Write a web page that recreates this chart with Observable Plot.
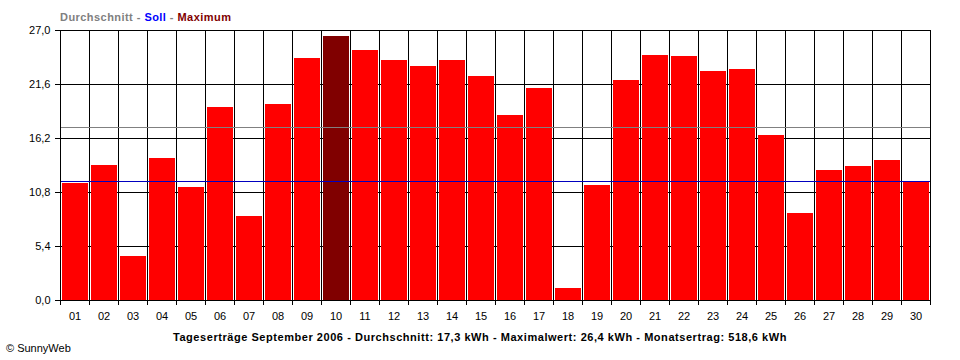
<!DOCTYPE html>
<html>
<head>
<meta charset="utf-8">
<script src="https://cdn.jsdelivr.net/npm/d3@7"></script>
<script src="https://cdn.jsdelivr.net/npm/@observablehq/plot@0.6"></script>
<style>
  html, body { margin: 0; padding: 0; background: #fff; }
  body { width: 960px; height: 360px; position: relative; overflow: hidden; font-family: "Liberation Sans", Arial, sans-serif; }
  #legend { position: absolute; left: 60px; top: 11px; font-weight: bold; font-size: 11px; line-height: 13px; letter-spacing: 0.45px; color: #808080; white-space: nowrap; }
  #chart { position: absolute; left: 0; top: 24px; }
  #caption { position: absolute; left: 0; width: 960px; top: 331px; text-align: center; font-weight: bold; font-size: 11px; line-height: 13px; letter-spacing: 0.55px; color: #000; white-space: nowrap; }
  #credit { position: absolute; left: 6px; top: 342px; font-size: 11px; line-height: 13px; color: #000; white-space: nowrap; }
  svg { shape-rendering: crispEdges; }
  svg text { shape-rendering: auto; }
</style>
</head>
<body>
<div id="legend"><span style="color:#808080">Durchschnitt</span> - <span style="color:#0000ff">Soll</span> - <span style="color:#800000">Maximum</span></div>
<div id="chart"></div>
<div id="caption">Tageserträge September 2006 - Durchschnitt: 17,3 kWh - Maximalwert: 26,4 kWh - Monatsertrag: 518,6 kWh</div>
<div id="credit">© SunnyWeb</div>
<script>
const days = ["01","02","03","04","05","06","07","08","09","10","11","12","13","14","15","16","17","18","19","20","21","22","23","24","25","26","27","28","29","30"];
const yields = [11.7,13.5,4.4,14.2,11.3,19.3,8.4,19.6,24.2,26.4,25.0,24.0,23.4,24.0,22.4,18.5,21.2,1.2,11.5,22.0,24.5,24.4,22.9,23.1,16.5,8.7,13.0,13.4,14.0,11.9];
const average = 17.3;
const target = 11.9;
const maxValue = 26.4;
const yTicks = [0, 5.4, 10.8, 16.2, 21.6, 27.0];

const data = days.map((d, i) => ({day: d, value: yields[i]}));
const fmt = d => d.toFixed(1).replace(".", ",");

const chart = Plot.plot({
  width: 960,
  height: 300,
  marginLeft: 60,
  marginRight: 30,
  marginTop: 6,
  marginBottom: 24,
  style: {fontFamily: "'Liberation Sans', Arial, sans-serif", fontSize: "11px", color: "#000", background: "#fff"},
  x: {type: "band", domain: days, padding: 0, label: null},
  y: {domain: [0, 27], label: null},
  color: {type: "identity"},
  marks: [
    Plot.ruleY(yTicks, {stroke: "#000"}),
    Plot.gridX({stroke: "#000", strokeOpacity: 1, dx: -14.5}),
    Plot.barY(data, {x: "day", y: "value", fill: d => d.value === maxValue ? "#800000" : "#ff0000", insetLeft: 2, insetRight: 1}),
    Plot.ruleY([average], {stroke: "#808080"}),
    Plot.ruleY([target], {stroke: "#0000c0"}),
    Plot.frame({stroke: "#000"}),
    Plot.axisY({ticks: yTicks, tickSize: 5, tickPadding: 5, tickFormat: fmt, label: null}),
    Plot.axisX({tickSize: 0, tickPadding: 12, label: null}),
    Plot.axisX({tickSize: 5, dx: -14.5, text: null, label: null}),
    Plot.axisX({ticks: ["30"], tickSize: 5, dx: 14.5, text: null, label: null})
  ]
});
document.getElementById("chart").appendChild(chart);
</script>
</body>
</html>
